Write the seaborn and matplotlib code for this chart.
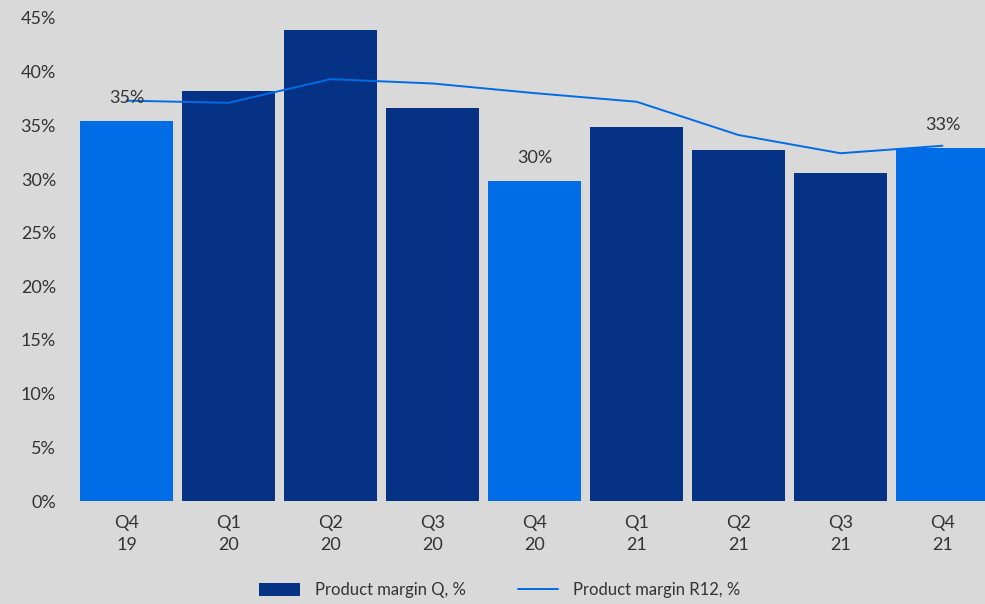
import matplotlib
matplotlib.use("Agg")
import matplotlib.pyplot as plt
import seaborn as sns
import numpy as np
import pandas as pd
from matplotlib.patches import Patch
from matplotlib.lines import Line2D

quarters = ["Q4\n19", "Q1\n20", "Q2\n20", "Q3\n20", "Q4\n20", "Q1\n21", "Q2\n21", "Q3\n21", "Q4\n21"]
margin_q = [35.4, 38.2, 43.9, 36.6, 29.8, 34.8, 32.7, 30.6, 32.9]
margin_r12 = [37.3, 37.1, 39.3, 38.9, 38.0, 37.2, 34.1, 32.4, 33.1]
highlight = [True, False, False, False, True, False, False, False, True]
yticks = [0, 5, 10, 15, 20, 25, 30, 35, 40, 45]

BG = "#D9D9D9"
DARK = "#053285"
LIGHT = "#006CE5"
TXT = "#333333"

sns.set_theme(style="white")
plt.rcParams["font.family"] = ["Lato", "DejaVu Sans"]

fig = plt.figure(figsize=(9.85, 6.04), dpi=100, facecolor=BG)
ax = fig.add_axes([75.5 / 985, 103 / 604, 918 / 985, 483 / 604])
ax.set_facecolor(BG)

df = pd.DataFrame({"quarter": quarters, "q": margin_q, "r12": margin_r12})
colors = [LIGHT if h else DARK for h in highlight]
sns.barplot(data=df, x="quarter", y="q", hue="quarter", palette=colors,
            width=0.91, saturation=1, legend=False, linewidth=0, edgecolor="none", ax=ax)
sns.lineplot(x=np.arange(len(quarters)), y=margin_r12, color=LIGHT, linewidth=1.4, ax=ax)

for i, (v, h) in enumerate(zip(margin_q, highlight)):
    if h:
        ax.annotate(f"{round(v):.0f}%", xy=(i, v), xytext=(0, 11), textcoords="offset points",
                    ha="center", va="bottom", fontsize=13, color=TXT)

ax.set_xlim(-0.5, len(quarters) - 0.5)
ax.set_ylim(0, 45)
ax.set_yticks(yticks)
ax.set_yticklabels([f"{t}%" for t in yticks])
ax.set_xlabel("")
ax.set_ylabel("")
for s in ax.spines.values():
    s.set_visible(False)
ax.tick_params(axis="y", length=0, pad=14, labelsize=13, labelcolor=TXT)
ax.tick_params(axis="x", length=0, pad=10, labelsize=13, labelcolor=TXT)
for lbl in ax.get_xticklabels():
    lbl.set_linespacing(1.5)

handles = [Patch(facecolor=DARK, edgecolor="none"), Line2D([0], [0], color=LIGHT, linewidth=1.4)]
fig.legend(handles, ["Product margin Q, %", "Product margin R12, %"], loc="center",
           bbox_to_anchor=(500 / 985, 1 - 590 / 604), ncol=2, frameon=False, fontsize=12,
           handlelength=2.45, handleheight=0.8, handletextpad=0.9, columnspacing=3.1,
           labelcolor=TXT)

fig.savefig("out.png", dpi=100, facecolor=BG)
